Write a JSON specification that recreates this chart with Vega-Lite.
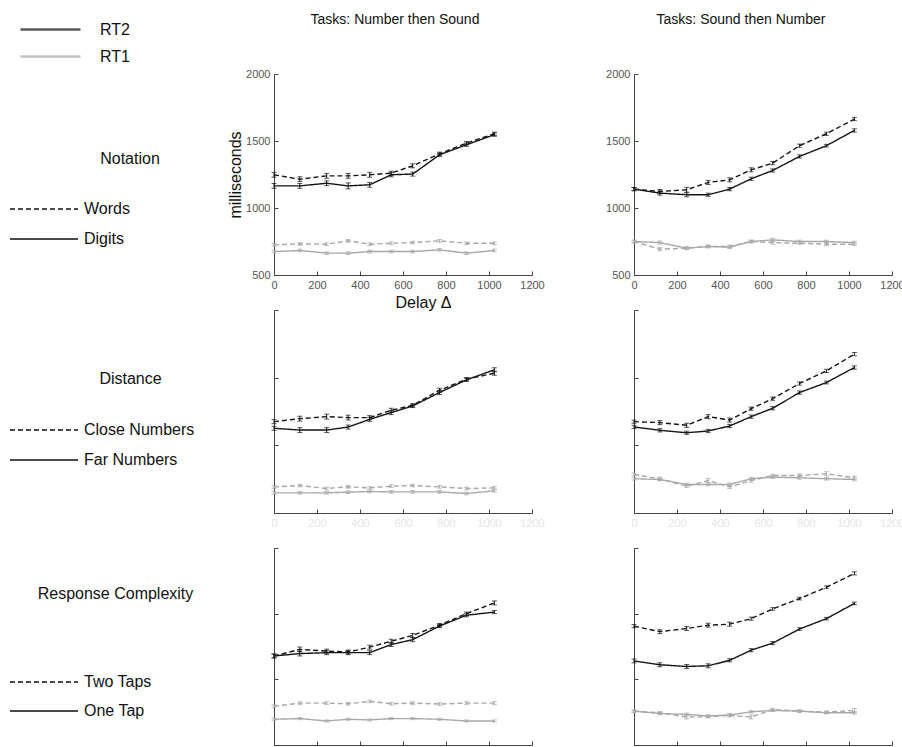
{
  "$schema": "https://vega.github.io/schema/vega-lite/v6.json",
  "padding": {"left": 26, "top": 13, "right": 0, "bottom": 0},
  "background": "white",
  "datasets": {
    "notation_ns": [
      {"rt": "RT2", "level": "Words", "delay": 0, "ms": 1248, "err": 18},
      {"rt": "RT2", "level": "Words", "delay": 120, "ms": 1215, "err": 18},
      {"rt": "RT2", "level": "Words", "delay": 245, "ms": 1240, "err": 18},
      {"rt": "RT2", "level": "Words", "delay": 345, "ms": 1240, "err": 18},
      {"rt": "RT2", "level": "Words", "delay": 445, "ms": 1248, "err": 18},
      {"rt": "RT2", "level": "Words", "delay": 545, "ms": 1260, "err": 15},
      {"rt": "RT2", "level": "Words", "delay": 645, "ms": 1315, "err": 15},
      {"rt": "RT2", "level": "Words", "delay": 770, "ms": 1405, "err": 12},
      {"rt": "RT2", "level": "Words", "delay": 895, "ms": 1484, "err": 12},
      {"rt": "RT2", "level": "Words", "delay": 1025, "ms": 1554, "err": 12},
      {"rt": "RT2", "level": "Digits", "delay": 0, "ms": 1165, "err": 18},
      {"rt": "RT2", "level": "Digits", "delay": 120, "ms": 1165, "err": 18},
      {"rt": "RT2", "level": "Digits", "delay": 245, "ms": 1185, "err": 18},
      {"rt": "RT2", "level": "Digits", "delay": 345, "ms": 1165, "err": 22},
      {"rt": "RT2", "level": "Digits", "delay": 445, "ms": 1173, "err": 18},
      {"rt": "RT2", "level": "Digits", "delay": 545, "ms": 1248, "err": 15},
      {"rt": "RT2", "level": "Digits", "delay": 645, "ms": 1253, "err": 15},
      {"rt": "RT2", "level": "Digits", "delay": 770, "ms": 1397, "err": 12},
      {"rt": "RT2", "level": "Digits", "delay": 895, "ms": 1472, "err": 12},
      {"rt": "RT2", "level": "Digits", "delay": 1025, "ms": 1547, "err": 12},
      {"rt": "RT1", "level": "Words", "delay": 0, "ms": 725, "err": 10},
      {"rt": "RT1", "level": "Words", "delay": 120, "ms": 732, "err": 10},
      {"rt": "RT1", "level": "Words", "delay": 245, "ms": 730, "err": 10},
      {"rt": "RT1", "level": "Words", "delay": 345, "ms": 755, "err": 10},
      {"rt": "RT1", "level": "Words", "delay": 445, "ms": 730, "err": 10},
      {"rt": "RT1", "level": "Words", "delay": 545, "ms": 737, "err": 10},
      {"rt": "RT1", "level": "Words", "delay": 645, "ms": 742, "err": 10},
      {"rt": "RT1", "level": "Words", "delay": 770, "ms": 755, "err": 10},
      {"rt": "RT1", "level": "Words", "delay": 895, "ms": 737, "err": 10},
      {"rt": "RT1", "level": "Words", "delay": 1025, "ms": 737, "err": 10},
      {"rt": "RT1", "level": "Digits", "delay": 0, "ms": 675, "err": 10},
      {"rt": "RT1", "level": "Digits", "delay": 120, "ms": 683, "err": 10},
      {"rt": "RT1", "level": "Digits", "delay": 245, "ms": 663, "err": 10},
      {"rt": "RT1", "level": "Digits", "delay": 345, "ms": 663, "err": 10},
      {"rt": "RT1", "level": "Digits", "delay": 445, "ms": 675, "err": 10},
      {"rt": "RT1", "level": "Digits", "delay": 545, "ms": 675, "err": 10},
      {"rt": "RT1", "level": "Digits", "delay": 645, "ms": 675, "err": 10},
      {"rt": "RT1", "level": "Digits", "delay": 770, "ms": 688, "err": 10},
      {"rt": "RT1", "level": "Digits", "delay": 895, "ms": 663, "err": 10},
      {"rt": "RT1", "level": "Digits", "delay": 1025, "ms": 683, "err": 10}
    ],
    "notation_sn": [
      {"rt": "RT2", "level": "Words", "delay": 0, "ms": 1141, "err": 12},
      {"rt": "RT2", "level": "Words", "delay": 120, "ms": 1123, "err": 15},
      {"rt": "RT2", "level": "Words", "delay": 245, "ms": 1136, "err": 18},
      {"rt": "RT2", "level": "Words", "delay": 345, "ms": 1191, "err": 15},
      {"rt": "RT2", "level": "Words", "delay": 445, "ms": 1210, "err": 15},
      {"rt": "RT2", "level": "Words", "delay": 545, "ms": 1285, "err": 15},
      {"rt": "RT2", "level": "Words", "delay": 645, "ms": 1335, "err": 12},
      {"rt": "RT2", "level": "Words", "delay": 770, "ms": 1465, "err": 12},
      {"rt": "RT2", "level": "Words", "delay": 895, "ms": 1554, "err": 12},
      {"rt": "RT2", "level": "Words", "delay": 1025, "ms": 1664, "err": 12},
      {"rt": "RT2", "level": "Digits", "delay": 0, "ms": 1141, "err": 12},
      {"rt": "RT2", "level": "Digits", "delay": 120, "ms": 1111, "err": 15},
      {"rt": "RT2", "level": "Digits", "delay": 245, "ms": 1099, "err": 15},
      {"rt": "RT2", "level": "Digits", "delay": 345, "ms": 1099, "err": 12},
      {"rt": "RT2", "level": "Digits", "delay": 445, "ms": 1141, "err": 12},
      {"rt": "RT2", "level": "Digits", "delay": 545, "ms": 1218, "err": 12},
      {"rt": "RT2", "level": "Digits", "delay": 645, "ms": 1280, "err": 12},
      {"rt": "RT2", "level": "Digits", "delay": 770, "ms": 1385, "err": 12},
      {"rt": "RT2", "level": "Digits", "delay": 895, "ms": 1465, "err": 10},
      {"rt": "RT2", "level": "Digits", "delay": 1025, "ms": 1579, "err": 12},
      {"rt": "RT1", "level": "Words", "delay": 0, "ms": 750, "err": 10},
      {"rt": "RT1", "level": "Words", "delay": 120, "ms": 693, "err": 12},
      {"rt": "RT1", "level": "Words", "delay": 245, "ms": 700, "err": 10},
      {"rt": "RT1", "level": "Words", "delay": 345, "ms": 713, "err": 10},
      {"rt": "RT1", "level": "Words", "delay": 445, "ms": 713, "err": 10},
      {"rt": "RT1", "level": "Words", "delay": 545, "ms": 750, "err": 10},
      {"rt": "RT1", "level": "Words", "delay": 645, "ms": 742, "err": 12},
      {"rt": "RT1", "level": "Words", "delay": 770, "ms": 737, "err": 10},
      {"rt": "RT1", "level": "Words", "delay": 895, "ms": 730, "err": 12},
      {"rt": "RT1", "level": "Words", "delay": 1025, "ms": 730, "err": 10},
      {"rt": "RT1", "level": "Digits", "delay": 0, "ms": 750, "err": 10},
      {"rt": "RT1", "level": "Digits", "delay": 120, "ms": 742, "err": 12},
      {"rt": "RT1", "level": "Digits", "delay": 245, "ms": 700, "err": 10},
      {"rt": "RT1", "level": "Digits", "delay": 345, "ms": 713, "err": 10},
      {"rt": "RT1", "level": "Digits", "delay": 445, "ms": 708, "err": 10},
      {"rt": "RT1", "level": "Digits", "delay": 545, "ms": 750, "err": 10},
      {"rt": "RT1", "level": "Digits", "delay": 645, "ms": 762, "err": 12},
      {"rt": "RT1", "level": "Digits", "delay": 770, "ms": 750, "err": 10},
      {"rt": "RT1", "level": "Digits", "delay": 895, "ms": 750, "err": 10},
      {"rt": "RT1", "level": "Digits", "delay": 1025, "ms": 742, "err": 10}
    ],
    "distance_ns": [
      {"rt": "RT2", "level": "Close Numbers", "delay": 0, "ms": 1175, "err": 15},
      {"rt": "RT2", "level": "Close Numbers", "delay": 120, "ms": 1197, "err": 18},
      {"rt": "RT2", "level": "Close Numbers", "delay": 245, "ms": 1212, "err": 18},
      {"rt": "RT2", "level": "Close Numbers", "delay": 345, "ms": 1205, "err": 18},
      {"rt": "RT2", "level": "Close Numbers", "delay": 445, "ms": 1205, "err": 15},
      {"rt": "RT2", "level": "Close Numbers", "delay": 545, "ms": 1259, "err": 15},
      {"rt": "RT2", "level": "Close Numbers", "delay": 645, "ms": 1296, "err": 12},
      {"rt": "RT2", "level": "Close Numbers", "delay": 770, "ms": 1407, "err": 15},
      {"rt": "RT2", "level": "Close Numbers", "delay": 895, "ms": 1489, "err": 12},
      {"rt": "RT2", "level": "Close Numbers", "delay": 1025, "ms": 1533, "err": 15},
      {"rt": "RT2", "level": "Far Numbers", "delay": 0, "ms": 1126, "err": 15},
      {"rt": "RT2", "level": "Far Numbers", "delay": 120, "ms": 1113, "err": 18},
      {"rt": "RT2", "level": "Far Numbers", "delay": 245, "ms": 1113, "err": 18},
      {"rt": "RT2", "level": "Far Numbers", "delay": 345, "ms": 1135, "err": 15},
      {"rt": "RT2", "level": "Far Numbers", "delay": 445, "ms": 1192, "err": 15},
      {"rt": "RT2", "level": "Far Numbers", "delay": 545, "ms": 1242, "err": 15},
      {"rt": "RT2", "level": "Far Numbers", "delay": 645, "ms": 1291, "err": 12},
      {"rt": "RT2", "level": "Far Numbers", "delay": 770, "ms": 1390, "err": 15},
      {"rt": "RT2", "level": "Far Numbers", "delay": 895, "ms": 1484, "err": 12},
      {"rt": "RT2", "level": "Far Numbers", "delay": 1025, "ms": 1558, "err": 15},
      {"rt": "RT1", "level": "Close Numbers", "delay": 0, "ms": 693, "err": 10},
      {"rt": "RT1", "level": "Close Numbers", "delay": 120, "ms": 703, "err": 10},
      {"rt": "RT1", "level": "Close Numbers", "delay": 245, "ms": 681, "err": 10},
      {"rt": "RT1", "level": "Close Numbers", "delay": 345, "ms": 693, "err": 10},
      {"rt": "RT1", "level": "Close Numbers", "delay": 445, "ms": 686, "err": 10},
      {"rt": "RT1", "level": "Close Numbers", "delay": 545, "ms": 698, "err": 10},
      {"rt": "RT1", "level": "Close Numbers", "delay": 645, "ms": 703, "err": 10},
      {"rt": "RT1", "level": "Close Numbers", "delay": 770, "ms": 693, "err": 10},
      {"rt": "RT1", "level": "Close Numbers", "delay": 895, "ms": 681, "err": 10},
      {"rt": "RT1", "level": "Close Numbers", "delay": 1025, "ms": 686, "err": 10},
      {"rt": "RT1", "level": "Far Numbers", "delay": 0, "ms": 649, "err": 10},
      {"rt": "RT1", "level": "Far Numbers", "delay": 120, "ms": 649, "err": 10},
      {"rt": "RT1", "level": "Far Numbers", "delay": 245, "ms": 649, "err": 10},
      {"rt": "RT1", "level": "Far Numbers", "delay": 345, "ms": 654, "err": 10},
      {"rt": "RT1", "level": "Far Numbers", "delay": 445, "ms": 659, "err": 10},
      {"rt": "RT1", "level": "Far Numbers", "delay": 545, "ms": 656, "err": 10},
      {"rt": "RT1", "level": "Far Numbers", "delay": 645, "ms": 656, "err": 10},
      {"rt": "RT1", "level": "Far Numbers", "delay": 770, "ms": 656, "err": 10},
      {"rt": "RT1", "level": "Far Numbers", "delay": 895, "ms": 644, "err": 10},
      {"rt": "RT1", "level": "Far Numbers", "delay": 1025, "ms": 664, "err": 10}
    ],
    "distance_sn": [
      {"rt": "RT2", "level": "Close Numbers", "delay": 0, "ms": 1175, "err": 12},
      {"rt": "RT2", "level": "Close Numbers", "delay": 120, "ms": 1168, "err": 15},
      {"rt": "RT2", "level": "Close Numbers", "delay": 245, "ms": 1148, "err": 15},
      {"rt": "RT2", "level": "Close Numbers", "delay": 345, "ms": 1212, "err": 15},
      {"rt": "RT2", "level": "Close Numbers", "delay": 445, "ms": 1187, "err": 15},
      {"rt": "RT2", "level": "Close Numbers", "delay": 545, "ms": 1271, "err": 12},
      {"rt": "RT2", "level": "Close Numbers", "delay": 645, "ms": 1345, "err": 12},
      {"rt": "RT2", "level": "Close Numbers", "delay": 770, "ms": 1457, "err": 12},
      {"rt": "RT2", "level": "Close Numbers", "delay": 895, "ms": 1550, "err": 12},
      {"rt": "RT2", "level": "Close Numbers", "delay": 1025, "ms": 1674, "err": 12},
      {"rt": "RT2", "level": "Far Numbers", "delay": 0, "ms": 1136, "err": 12},
      {"rt": "RT2", "level": "Far Numbers", "delay": 120, "ms": 1111, "err": 12},
      {"rt": "RT2", "level": "Far Numbers", "delay": 245, "ms": 1093, "err": 12},
      {"rt": "RT2", "level": "Far Numbers", "delay": 345, "ms": 1106, "err": 12},
      {"rt": "RT2", "level": "Far Numbers", "delay": 445, "ms": 1143, "err": 12},
      {"rt": "RT2", "level": "Far Numbers", "delay": 545, "ms": 1212, "err": 12},
      {"rt": "RT2", "level": "Far Numbers", "delay": 645, "ms": 1274, "err": 12},
      {"rt": "RT2", "level": "Far Numbers", "delay": 770, "ms": 1390, "err": 12},
      {"rt": "RT2", "level": "Far Numbers", "delay": 895, "ms": 1464, "err": 10},
      {"rt": "RT2", "level": "Far Numbers", "delay": 1025, "ms": 1575, "err": 12},
      {"rt": "RT1", "level": "Close Numbers", "delay": 0, "ms": 785, "err": 10},
      {"rt": "RT1", "level": "Close Numbers", "delay": 120, "ms": 753, "err": 12},
      {"rt": "RT1", "level": "Close Numbers", "delay": 245, "ms": 698, "err": 10},
      {"rt": "RT1", "level": "Close Numbers", "delay": 345, "ms": 740, "err": 15},
      {"rt": "RT1", "level": "Close Numbers", "delay": 445, "ms": 693, "err": 12},
      {"rt": "RT1", "level": "Close Numbers", "delay": 545, "ms": 740, "err": 12},
      {"rt": "RT1", "level": "Close Numbers", "delay": 645, "ms": 777, "err": 10},
      {"rt": "RT1", "level": "Close Numbers", "delay": 770, "ms": 777, "err": 12},
      {"rt": "RT1", "level": "Close Numbers", "delay": 895, "ms": 790, "err": 15},
      {"rt": "RT1", "level": "Close Numbers", "delay": 1025, "ms": 760, "err": 12},
      {"rt": "RT1", "level": "Far Numbers", "delay": 0, "ms": 753, "err": 10},
      {"rt": "RT1", "level": "Far Numbers", "delay": 120, "ms": 748, "err": 10},
      {"rt": "RT1", "level": "Far Numbers", "delay": 245, "ms": 711, "err": 10},
      {"rt": "RT1", "level": "Far Numbers", "delay": 345, "ms": 711, "err": 10},
      {"rt": "RT1", "level": "Far Numbers", "delay": 445, "ms": 711, "err": 10},
      {"rt": "RT1", "level": "Far Numbers", "delay": 545, "ms": 753, "err": 10},
      {"rt": "RT1", "level": "Far Numbers", "delay": 645, "ms": 765, "err": 10},
      {"rt": "RT1", "level": "Far Numbers", "delay": 770, "ms": 760, "err": 10},
      {"rt": "RT1", "level": "Far Numbers", "delay": 895, "ms": 753, "err": 10},
      {"rt": "RT1", "level": "Far Numbers", "delay": 1025, "ms": 748, "err": 10}
    ],
    "response_ns": [
      {"rt": "RT2", "level": "Two Taps", "delay": 0, "ms": 1178, "err": 15},
      {"rt": "RT2", "level": "Two Taps", "delay": 120, "ms": 1228, "err": 18},
      {"rt": "RT2", "level": "Two Taps", "delay": 245, "ms": 1215, "err": 15},
      {"rt": "RT2", "level": "Two Taps", "delay": 345, "ms": 1208, "err": 15},
      {"rt": "RT2", "level": "Two Taps", "delay": 445, "ms": 1245, "err": 15},
      {"rt": "RT2", "level": "Two Taps", "delay": 545, "ms": 1290, "err": 15},
      {"rt": "RT2", "level": "Two Taps", "delay": 645, "ms": 1334, "err": 15},
      {"rt": "RT2", "level": "Two Taps", "delay": 770, "ms": 1413, "err": 12},
      {"rt": "RT2", "level": "Two Taps", "delay": 895, "ms": 1500, "err": 12},
      {"rt": "RT2", "level": "Two Taps", "delay": 1025, "ms": 1582, "err": 15},
      {"rt": "RT2", "level": "One Tap", "delay": 0, "ms": 1178, "err": 15},
      {"rt": "RT2", "level": "One Tap", "delay": 120, "ms": 1196, "err": 18},
      {"rt": "RT2", "level": "One Tap", "delay": 245, "ms": 1203, "err": 15},
      {"rt": "RT2", "level": "One Tap", "delay": 345, "ms": 1203, "err": 15},
      {"rt": "RT2", "level": "One Tap", "delay": 445, "ms": 1203, "err": 15},
      {"rt": "RT2", "level": "One Tap", "delay": 545, "ms": 1265, "err": 15},
      {"rt": "RT2", "level": "One Tap", "delay": 645, "ms": 1302, "err": 15},
      {"rt": "RT2", "level": "One Tap", "delay": 770, "ms": 1406, "err": 12},
      {"rt": "RT2", "level": "One Tap", "delay": 895, "ms": 1488, "err": 12},
      {"rt": "RT2", "level": "One Tap", "delay": 1025, "ms": 1512, "err": 12},
      {"rt": "RT1", "level": "Two Taps", "delay": 0, "ms": 795, "err": 10},
      {"rt": "RT1", "level": "Two Taps", "delay": 120, "ms": 819, "err": 10},
      {"rt": "RT1", "level": "Two Taps", "delay": 245, "ms": 819, "err": 10},
      {"rt": "RT1", "level": "Two Taps", "delay": 345, "ms": 814, "err": 10},
      {"rt": "RT1", "level": "Two Taps", "delay": 445, "ms": 832, "err": 10},
      {"rt": "RT1", "level": "Two Taps", "delay": 545, "ms": 814, "err": 10},
      {"rt": "RT1", "level": "Two Taps", "delay": 645, "ms": 819, "err": 10},
      {"rt": "RT1", "level": "Two Taps", "delay": 770, "ms": 812, "err": 10},
      {"rt": "RT1", "level": "Two Taps", "delay": 895, "ms": 819, "err": 10},
      {"rt": "RT1", "level": "Two Taps", "delay": 1025, "ms": 819, "err": 12},
      {"rt": "RT1", "level": "One Tap", "delay": 0, "ms": 696, "err": 8},
      {"rt": "RT1", "level": "One Tap", "delay": 120, "ms": 701, "err": 8},
      {"rt": "RT1", "level": "One Tap", "delay": 245, "ms": 683, "err": 8},
      {"rt": "RT1", "level": "One Tap", "delay": 345, "ms": 696, "err": 8},
      {"rt": "RT1", "level": "One Tap", "delay": 445, "ms": 691, "err": 8},
      {"rt": "RT1", "level": "One Tap", "delay": 545, "ms": 701, "err": 8},
      {"rt": "RT1", "level": "One Tap", "delay": 645, "ms": 701, "err": 8},
      {"rt": "RT1", "level": "One Tap", "delay": 770, "ms": 696, "err": 8},
      {"rt": "RT1", "level": "One Tap", "delay": 895, "ms": 683, "err": 8},
      {"rt": "RT1", "level": "One Tap", "delay": 1025, "ms": 683, "err": 8}
    ],
    "response_sn": [
      {"rt": "RT2", "level": "Two Taps", "delay": 0, "ms": 1405, "err": 12},
      {"rt": "RT2", "level": "Two Taps", "delay": 120, "ms": 1363, "err": 15},
      {"rt": "RT2", "level": "Two Taps", "delay": 245, "ms": 1387, "err": 15},
      {"rt": "RT2", "level": "Two Taps", "delay": 345, "ms": 1412, "err": 15},
      {"rt": "RT2", "level": "Two Taps", "delay": 445, "ms": 1420, "err": 15},
      {"rt": "RT2", "level": "Two Taps", "delay": 545, "ms": 1462, "err": 12},
      {"rt": "RT2", "level": "Two Taps", "delay": 645, "ms": 1536, "err": 10},
      {"rt": "RT2", "level": "Two Taps", "delay": 770, "ms": 1615, "err": 10},
      {"rt": "RT2", "level": "Two Taps", "delay": 895, "ms": 1701, "err": 10},
      {"rt": "RT2", "level": "Two Taps", "delay": 1025, "ms": 1807, "err": 12},
      {"rt": "RT2", "level": "One Tap", "delay": 0, "ms": 1140, "err": 15},
      {"rt": "RT2", "level": "One Tap", "delay": 120, "ms": 1111, "err": 15},
      {"rt": "RT2", "level": "One Tap", "delay": 245, "ms": 1098, "err": 15},
      {"rt": "RT2", "level": "One Tap", "delay": 345, "ms": 1103, "err": 15},
      {"rt": "RT2", "level": "One Tap", "delay": 445, "ms": 1145, "err": 12},
      {"rt": "RT2", "level": "One Tap", "delay": 545, "ms": 1222, "err": 12},
      {"rt": "RT2", "level": "One Tap", "delay": 645, "ms": 1276, "err": 12},
      {"rt": "RT2", "level": "One Tap", "delay": 770, "ms": 1383, "err": 10},
      {"rt": "RT2", "level": "One Tap", "delay": 895, "ms": 1462, "err": 10},
      {"rt": "RT2", "level": "One Tap", "delay": 1025, "ms": 1578, "err": 10},
      {"rt": "RT1", "level": "Two Taps", "delay": 0, "ms": 758, "err": 10},
      {"rt": "RT1", "level": "Two Taps", "delay": 120, "ms": 745, "err": 10},
      {"rt": "RT1", "level": "Two Taps", "delay": 245, "ms": 713, "err": 15},
      {"rt": "RT1", "level": "Two Taps", "delay": 345, "ms": 716, "err": 10},
      {"rt": "RT1", "level": "Two Taps", "delay": 445, "ms": 726, "err": 12},
      {"rt": "RT1", "level": "Two Taps", "delay": 545, "ms": 713, "err": 15},
      {"rt": "RT1", "level": "Two Taps", "delay": 645, "ms": 770, "err": 10},
      {"rt": "RT1", "level": "Two Taps", "delay": 770, "ms": 758, "err": 10},
      {"rt": "RT1", "level": "Two Taps", "delay": 895, "ms": 750, "err": 10},
      {"rt": "RT1", "level": "Two Taps", "delay": 1025, "ms": 763, "err": 15},
      {"rt": "RT1", "level": "One Tap", "delay": 0, "ms": 758, "err": 8},
      {"rt": "RT1", "level": "One Tap", "delay": 120, "ms": 740, "err": 10},
      {"rt": "RT1", "level": "One Tap", "delay": 245, "ms": 733, "err": 10},
      {"rt": "RT1", "level": "One Tap", "delay": 345, "ms": 721, "err": 8},
      {"rt": "RT1", "level": "One Tap", "delay": 445, "ms": 728, "err": 10},
      {"rt": "RT1", "level": "One Tap", "delay": 545, "ms": 753, "err": 10},
      {"rt": "RT1", "level": "One Tap", "delay": 645, "ms": 763, "err": 8},
      {"rt": "RT1", "level": "One Tap", "delay": 770, "ms": 758, "err": 8},
      {"rt": "RT1", "level": "One Tap", "delay": 895, "ms": 745, "err": 8},
      {"rt": "RT1", "level": "One Tap", "delay": 1025, "ms": 745, "err": 10}
    ]
  },
  "columns": 2,
  "bounds": "flush",
  "align": "each",
  "spacing": {"row": 35, "column": 102},
  "concat": [
    {
      "data": {"name": "notation_ns"},
      "width": 258,
      "height": 201,
      "title": {"text": "Tasks: Number then Sound", "dx": -8, "offset": -14},
      "encoding": {
        "x": {"field": "delay", "type": "quantitative", "scale": {"domain": [0, 1200]}, "axis": {"title": "Delay Δ", "titleX": 149, "titleAlign": "center", "format": "d", "values": [0, 200, 400, 600, 800, 1000, 1200]}},
        "y": {"field": "ms", "type": "quantitative", "scale": {"domain": [500, 2000]}, "axis": {"title": "milliseconds", "format": "d", "titlePadding": 2, "values": [500, 1000, 1500, 2000]}},
        "color": {"field": "rt", "type": "nominal", "scale": {"domain": ["RT2", "RT1"], "range": ["#151515", "#a8a8a8"]},
          "legend": {"title": null, "orient": "none", "legendX": -240, "legendY": -61, "symbolType": "M-2,0H2", "symbolSize": 900, "symbolStrokeWidth": 2.5, "labelOffset": 33, "rowPadding": 2}}
      },
      "layer": [
        {"mark": {"type": "line", "strokeWidth": 1.4},
          "encoding": {"strokeDash": {"field": "level", "type": "nominal", "scale": {"domain": ["Words", "Digits"], "range": [[5, 3], [1, 0]]},
            "legend": {"title": "Notation", "orient": "none", "legendX": -248, "legendY": 77, "titleAnchor": "end", "titleAlign": "center", "titlePadding": 24, "rowPadding": 4, "symbolStrokeColor": "#111111"}}}},
        {"mark": {"type": "errorbar", "ticks": true, "thickness": 1}, "encoding": {"yError": {"field": "err"}, "detail": {"field": "level"}}}
      ]
    },
    {
      "data": {"name": "notation_sn"},
      "width": 258,
      "height": 201,
      "title": {"text": "Tasks: Sound then Number", "dx": -22, "offset": 41},
      "encoding": {
        "x": {"field": "delay", "type": "quantitative", "scale": {"domain": [0, 1200]}, "axis": {"title": null, "format": "d", "values": [0, 200, 400, 600, 800, 1000, 1200]}},
        "y": {"field": "ms", "type": "quantitative", "scale": {"domain": [500, 2000]}, "axis": {"title": null, "format": "d", "values": [500, 1000, 1500, 2000]}},
        "color": {"field": "rt", "type": "nominal", "scale": {"domain": ["RT2", "RT1"], "range": ["#151515", "#a8a8a8"]}, "legend": null}
      },
      "layer": [
        {"mark": {"type": "line", "strokeWidth": 1.4},
          "encoding": {"strokeDash": {"field": "level", "type": "nominal", "scale": {"domain": ["Words", "Digits"], "range": [[5, 3], [1, 0]]}, "legend": null}}},
        {"mark": {"type": "errorbar", "ticks": true, "thickness": 1}, "encoding": {"yError": {"field": "err"}, "detail": {"field": "level"}}}
      ]
    },
    {
      "data": {"name": "distance_ns"},
      "width": 258,
      "height": 203,
      "encoding": {
        "x": {"field": "delay", "type": "quantitative", "scale": {"domain": [0, 1200]}, "axis": {"title": null, "format": "d", "values": [0, 200, 400, 600, 800, 1000, 1200], "labelColor": "#e6e6e6"}},
        "y": {"field": "ms", "type": "quantitative", "scale": {"domain": [500, 2000]},
          "axis": {"title": "Distance", "titleAngle": 0, "titleX": -144, "titleY": 68, "titleAlign": "center", "titleBaseline": "middle", "values": [500, 1000, 1500, 2000], "labels": false}},
        "color": {"field": "rt", "type": "nominal", "scale": {"domain": ["RT2", "RT1"], "range": ["#151515", "#a8a8a8"]}, "legend": null}
      },
      "layer": [
        {"mark": {"type": "line", "strokeWidth": 1.4},
          "encoding": {"strokeDash": {"field": "level", "type": "nominal", "scale": {"domain": ["Close Numbers", "Far Numbers"], "range": [[5, 3], [1, 0]]},
            "legend": {"title": null, "orient": "none", "legendX": -248, "legendY": 102, "rowPadding": 4, "symbolStrokeColor": "#111111"}}}},
        {"mark": {"type": "errorbar", "ticks": true, "thickness": 1}, "encoding": {"yError": {"field": "err"}, "detail": {"field": "level"}}}
      ]
    },
    {
      "data": {"name": "distance_sn"},
      "width": 258,
      "height": 203,
      "encoding": {
        "x": {"field": "delay", "type": "quantitative", "scale": {"domain": [0, 1200]}, "axis": {"title": null, "format": "d", "values": [0, 200, 400, 600, 800, 1000, 1200], "labelColor": "#e6e6e6"}},
        "y": {"field": "ms", "type": "quantitative", "scale": {"domain": [500, 2000]}, "axis": {"title": null, "values": [500, 1000, 1500, 2000], "labels": false}},
        "color": {"field": "rt", "type": "nominal", "scale": {"domain": ["RT2", "RT1"], "range": ["#151515", "#a8a8a8"]}, "legend": null}
      },
      "layer": [
        {"mark": {"type": "line", "strokeWidth": 1.4},
          "encoding": {"strokeDash": {"field": "level", "type": "nominal", "scale": {"domain": ["Close Numbers", "Far Numbers"], "range": [[5, 3], [1, 0]]}, "legend": null}}},
        {"mark": {"type": "errorbar", "ticks": true, "thickness": 1}, "encoding": {"yError": {"field": "err"}, "detail": {"field": "level"}}}
      ]
    },
    {
      "data": {"name": "response_ns"},
      "width": 258,
      "height": 197,
      "encoding": {
        "x": {"field": "delay", "type": "quantitative", "scale": {"domain": [0, 1200]}, "axis": {"title": null, "values": [0, 200, 400, 600, 800, 1000, 1200], "labels": false}},
        "y": {"field": "ms", "type": "quantitative", "scale": {"domain": [500, 2000]},
          "axis": {"title": "Response Complexity", "titleAngle": 0, "titleX": -159, "titleY": 45, "titleAlign": "center", "titleBaseline": "middle", "values": [500, 1000, 1500, 2000], "labels": false}},
        "color": {"field": "rt", "type": "nominal", "scale": {"domain": ["RT2", "RT1"], "range": ["#151515", "#a8a8a8"]}, "legend": null}
      },
      "layer": [
        {"mark": {"type": "line", "strokeWidth": 1.4},
          "encoding": {"strokeDash": {"field": "level", "type": "nominal", "scale": {"domain": ["Two Taps", "One Tap"], "range": [[5, 3], [1, 0]]},
            "legend": {"title": null, "orient": "none", "legendX": -248, "legendY": 116, "rowPadding": 3, "symbolStrokeColor": "#111111"}}}},
        {"mark": {"type": "errorbar", "ticks": true, "thickness": 1}, "encoding": {"yError": {"field": "err"}, "detail": {"field": "level"}}}
      ]
    },
    {
      "data": {"name": "response_sn"},
      "width": 258,
      "height": 197,
      "encoding": {
        "x": {"field": "delay", "type": "quantitative", "scale": {"domain": [0, 1200]}, "axis": {"title": null, "values": [0, 200, 400, 600, 800, 1000, 1200], "labels": false}},
        "y": {"field": "ms", "type": "quantitative", "scale": {"domain": [500, 2000]}, "axis": {"title": null, "values": [500, 1000, 1500, 2000], "labels": false}},
        "color": {"field": "rt", "type": "nominal", "scale": {"domain": ["RT2", "RT1"], "range": ["#151515", "#a8a8a8"]}, "legend": null}
      },
      "layer": [
        {"mark": {"type": "line", "strokeWidth": 1.4},
          "encoding": {"strokeDash": {"field": "level", "type": "nominal", "scale": {"domain": ["Two Taps", "One Tap"], "range": [[5, 3], [1, 0]]}, "legend": null}}},
        {"mark": {"type": "errorbar", "ticks": true, "thickness": 1}, "encoding": {"yError": {"field": "err"}, "detail": {"field": "level"}}}
      ]
    }
  ],
  "resolve": {
    "scale": {"color": "independent", "strokeDash": "independent"},
    "legend": {"color": "independent", "strokeDash": "independent"}
  },
  "config": {
    "font": "Liberation Sans",
    "view": {"stroke": null},
    "axis": {
      "grid": false,
      "domainColor": "#444444",
      "tickColor": "#444444",
      "tickSize": -4,
      "labelPadding": 8,
      "labelColor": "#555555",
      "labelFontSize": 11,
      "labelFlush": false,
      "labelOverlap": false,
      "titleFontSize": 16,
      "titleFontWeight": "normal",
      "titleColor": "#111111"
    },
    "legend": {
      "labelFontSize": 16,
      "titleFontSize": 16,
      "titleFontWeight": "normal",
      "labelColor": "#111111",
      "titleColor": "#111111",
      "symbolType": "M-2,0H2",
      "symbolStrokeWidth": 1.5,
      "symbolSize": 1156,
      "labelOffset": 22
    },
    "title": {"fontSize": 14, "fontWeight": "normal", "color": "#111111"}
  }
}
